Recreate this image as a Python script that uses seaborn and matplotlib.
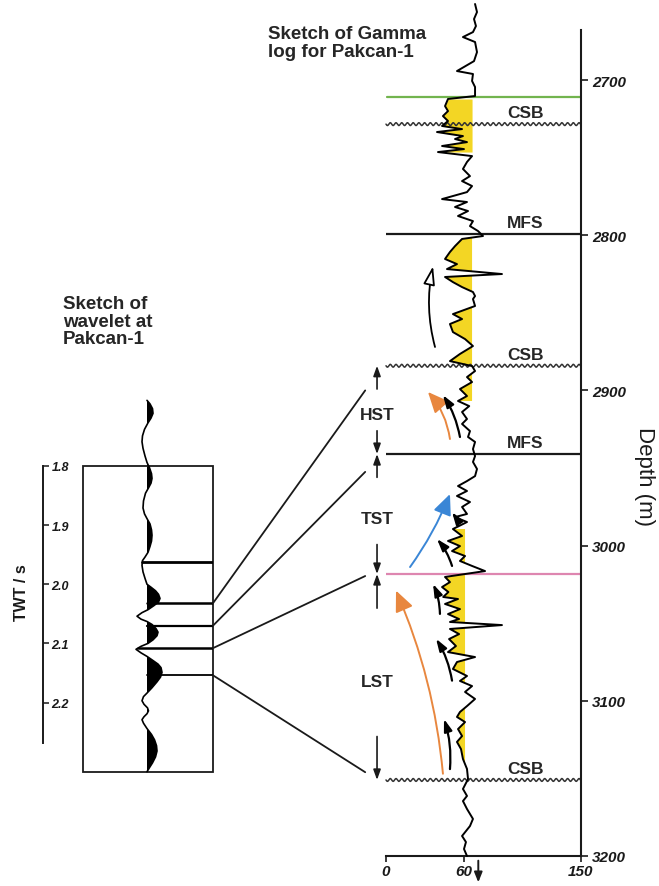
import numpy as np
import matplotlib
matplotlib.use('Agg')
import matplotlib.pyplot as plt
import seaborn as sns
from matplotlib.patches import Rectangle, ConnectionPatch

sns.set_theme(style='white')
plt.rcParams['font.family'] = ['Liberation Sans', 'DejaVu Sans']

# ---------------- data ----------------
gamma_depth = [2651.0, 2656.2, 2660.7, 2665.2, 2669.1, 2672.3, 2675.5, 2682.0, 2687.8, 2694.2,
               2696.1, 2700.6, 2704.5, 2710.3, 2712.2, 2716.8, 2720.0, 2723.2, 2726.4, 2729.6,
               2731.6, 2733.5, 2736.1, 2738.0, 2740.0, 2742.5, 2744.5, 2746.4, 2749.0, 2752.8,
               2757.3, 2761.9, 2765.1, 2768.3, 2772.2, 2776.7, 2778.6, 2781.8, 2784.4, 2787.6,
               2790.9, 2794.1, 2797.3, 2800.5, 2802.4, 2807.0, 2810.8, 2815.3, 2818.6, 2821.8,
               2825.0, 2826.9, 2830.2, 2833.4, 2836.6, 2839.2, 2841.1, 2845.6, 2850.8, 2854.0,
               2857.2, 2862.4, 2866.9, 2871.4, 2876.5, 2881.1, 2884.3, 2887.5, 2891.4, 2894.6,
               2899.1, 2903.6, 2906.8, 2910.1, 2913.9, 2918.4, 2921.6, 2926.2, 2930.0, 2933.2,
               2937.8, 2942.3, 2946.1, 2950.6, 2955.2, 2958.4, 2961.6, 2964.8, 2968.0, 2971.9,
               2975.1, 2979.6, 2981.6, 2984.8, 2989.3, 2993.8, 2997.0, 3000.3, 3003.5, 3006.7,
               3009.9, 3013.1, 3016.4, 3018.3, 3020.2, 3023.5, 3026.7, 3029.9, 3033.1, 3034.4,
               3037.6, 3040.9, 3044.1, 3047.3, 3049.2, 3051.2, 3053.7, 3057.0, 3060.2, 3064.7,
               3068.6, 3071.8, 3075.0, 3079.5, 3084.0, 3087.2, 3090.5, 3094.3, 3098.8, 3103.4,
               3107.2, 3110.4, 3113.7, 3118.2, 3122.7, 3126.5, 3131.1, 3137.5, 3143.9, 3150.4,
               3156.8, 3161.3, 3164.6, 3169.7, 3176.1, 3180.7, 3187.1, 3191.0, 3195.5, 3200.0]
gamma_api = [68.5, 70.0, 67.7, 69.2, 66.9, 59.2, 68.5, 70.0, 67.7, 54.6,
             66.9, 66.2, 68.5, 68.5, 47.7, 45.4, 47.7, 43.8, 47.7, 43.1,
             58.5, 39.2, 59.2, 53.1, 62.3, 43.1, 60.0, 40.0, 66.2, 62.3,
             59.2, 64.6, 58.5, 66.2, 62.3, 43.1, 62.3, 53.1, 63.1, 55.4,
             66.9, 64.6, 70.8, 74.6, 58.5, 53.1, 49.2, 45.4, 54.6, 46.9,
             89.2, 45.4, 51.5, 58.5, 66.9, 68.5, 66.9, 68.5, 51.5, 58.5,
             49.2, 51.5, 60.8, 66.9, 56.9, 49.2, 66.2, 68.5, 62.3, 66.2,
             56.9, 62.3, 55.4, 64.0, 58.5, 62.3, 58.5, 64.6, 63.1, 68.5,
             66.9, 68.5, 66.9, 70.0, 68.5, 62.3, 55.4, 62.3, 54.6, 64.6,
             58.5, 62.3, 53.1, 62.3, 51.5, 58.5, 47.7, 56.9, 50.8, 60.8,
             56.9, 66.2, 76.2, 60.8, 45.4, 49.2, 43.1, 48.0, 44.0, 55.4,
             45.4, 56.9, 47.7, 56.2, 49.2, 89.2, 49.2, 56.2, 48.5, 53.8,
             47.7, 68.5, 54.6, 51.5, 62.3, 56.9, 66.2, 60.8, 68.5, 62.3,
             56.9, 54.6, 60.8, 55.4, 58.5, 54.6, 57.7, 59.2, 62.3, 63.1,
             59.2, 62.3, 59.2, 62.3, 66.9, 64.6, 58.5, 61.5, 60.0, 62.3]

yellow_top = [2711.0, 2800.5, 2988.0]
yellow_base = [2747.0, 2907.0, 3150.5]
yellow_cut = [66.2, 66.2, 60.8]

horizon_depth = [2711.0, 2728.4, 2799.5, 2884.1, 2941.0, 3018.3, 3151.0]
horizon_kind = ['green', 'wavy', 'solid', 'wavy', 'solid', 'pink', 'wavy']
horizon_label = ['', 'CSB', 'MFS', 'CSB', 'MFS', '', 'CSB']

tract_names = ['HST', 'TST', 'LST']
tract_top = [2884.1, 2941.0, 3018.3]
tract_base = [2941.0, 3018.3, 3151.0]

depth_ticks = [2700, 2800, 2900, 3000, 3100, 3200]
gamma_ticks = [0, 60, 150]

wave_twt = [1.689, 1.695, 1.703, 1.711, 1.719, 1.727, 1.738, 1.749, 1.759, 1.770,
            1.783, 1.794, 1.803, 1.813, 1.821, 1.829, 1.837, 1.846, 1.859, 1.871,
            1.881, 1.889, 1.898, 1.908, 1.917, 1.927, 1.936, 1.946, 1.954, 1.960,
            1.968, 1.979, 1.990, 2.000, 2.005, 2.011, 2.017, 2.024, 2.030, 2.036,
            2.043, 2.048, 2.054, 2.059, 2.063, 2.068, 2.075, 2.081, 2.087, 2.094,
            2.100, 2.105, 2.110, 2.116, 2.122, 2.129, 2.135, 2.141, 2.149, 2.157,
            2.165, 2.175, 2.184, 2.190, 2.197, 2.203, 2.209, 2.214, 2.219, 2.224,
            2.229, 2.235, 2.244, 2.254, 2.263, 2.273, 2.282, 2.292, 2.302, 2.310,
            2.317]
wave_amp = [0, 3, 5.5, 6, 4, 1, -2.5, -4.5, -5, -4,
            -2, 0, 2.5, 4.5, 5, 4, 1.5, -1.5, -3.5, -4,
            -2.5, 0, 3, 4.5, 5, 4.5, 3, 1, -2, -4.5,
            -5, -4, -2, 0, 4, 8.5, 11.5, 13, 11.5, 7,
            1, -5, -10, -6, 0, 5, 9, 11, 10, 6,
            1, -6, -11, -6, 0, 6, 11, 14, 15, 13.5,
            10, 5, 0, -3.5, -5, -3, 0.5, 1.5, 0, -3,
            -5, -3.5, 0, 4.5, 7.5, 9.5, 10, 8.5, 5.5, 2.5,
            0]
twt_ticks = [1.8, 1.9, 2.0, 2.1, 2.2]
wave_horizon_twt = [1.962, 2.032, 2.070, 2.108, 2.154]
tie_twt = [2.032, 2.070, 2.108, 2.154]
tie_depth = [2900.0, 2952.5, 3019.6, 3146.0]

# ---------------- layout helpers ----------------
W, H = 659, 887
fig = plt.figure(figsize=(W / 100, H / 100), dpi=100)
fig.patch.set_facecolor('white')


def fx(px):
    return px / W


def fy(py):
    return 1 - py / H


INK = '#1a1a1a'
bi = dict(fontweight='bold', fontstyle='italic')

# ---------------- gamma log panel ----------------
ax = fig.add_axes([fx(386), fy(857), fx(581) - fx(386), fy(5) - fy(857)])
ax.set_facecolor('none')
ax.set_xlim(0, 150)
ax.set_ylim(3200, 2651)

g = np.array(gamma_api)
d = np.array(gamma_depth)
for top, base, cut in zip(yellow_top, yellow_base, yellow_cut):
    m = (d >= top - 0.01) & (d <= base + 0.01)
    ax.fill_betweenx(d[m], g[m], cut, where=g[m] < cut, interpolate=True,
                     color='#f3d624', lw=0, zorder=1)

for hd, kind, lab in zip(horizon_depth, horizon_kind, horizon_label):
    if kind == 'wavy':
        xs = np.linspace(0, 150, 700)
        ax.plot(xs, hd + 0.9 * np.sin(2 * np.pi * xs / 4.4), color='#333333', lw=1.1,
                zorder=2, clip_on=False)
    elif kind == 'green':
        ax.plot([1, 150], [hd, hd], color='#72b44e', lw=1.6, zorder=2)
    elif kind == 'pink':
        ax.plot([0, 150], [hd, hd], color='#de86b0', lw=1.6, zorder=2)
    else:
        ax.plot([0, 150], [hd, hd], color=INK, lw=1.6, zorder=2)
    if lab:
        ax.text(107, hd - 7.5, lab, ha='center', va='center', fontsize=12.5,
                fontweight='bold', color='#262626', zorder=3)

sns.lineplot(x=gamma_api, y=gamma_depth, sort=False, estimator=None, color='black',
             lw=1.4, ax=ax, zorder=4)
for ln in ax.lines[-1:]:
    ln.set_clip_on(False)

# systems tract double arrows
up_len = [15, 15, 22]
dn_len = [15, 19, 28]
for name, top, base, ul, dl in zip(tract_names, tract_top, tract_base, up_len, dn_len):
    ap = dict(arrowstyle='-|>,head_length=0.5,head_width=0.18', color=INK, lw=1.2,
              shrinkA=0, shrinkB=0, mutation_scale=12)
    ax.annotate('', xy=(-6.9, top), xytext=(-6.9, top + ul), arrowprops=ap,
                annotation_clip=False)
    ax.annotate('', xy=(-6.9, base), xytext=(-6.9, base - dl), arrowprops=ap,
                annotation_clip=False)
    ax.text(-6.7, (top + base) / 2 + 3, name, ha='center', va='center', fontsize=12.5,
            fontweight='bold', color='#262626', clip_on=False)

# trend arrows (tail -> tip)
trend = [
    ((37.7, 2872.0), (36.2, 2820.0), 'black', -0.12, 'hollow'),
    ((49.2, 2931.3), (32.3, 2901.0), '#e8873f', 0.15, 'solid'),
    ((56.9, 2930.0), (43.8, 2903.0), 'black', 0.10, 'thin'),
    ((18.5, 3013.8), (49.2, 2966.8), '#3a86d6', 0.06, 'solid'),
    ((50.8, 3013.1), (39.2, 2995.7), 'black', 0.10, 'thin'),
    ((55.4, 2987.4), (50.8, 2978.4), 'black', 0.10, 'thin'),
    ((43.8, 3147.0), (7.7, 3029.0), '#e8873f', 0.08, 'solid'),
    ((49.2, 3144.0), (44.6, 3111.7), 'black', 0.10, 'thin'),
    ((50.8, 3087.0), (38.5, 3060.0), 'black', 0.10, 'thin'),
    ((41.5, 3044.0), (36.2, 3024.7), 'black', 0.10, 'thin'),
]
for tail, tip, col, rad, kind in trend:
    if kind == 'hollow':
        ap = dict(arrowstyle='-|>,head_length=0.8,head_width=0.25', fc='white', ec=col,
                  lw=1.3, mutation_scale=14, shrinkA=0, shrinkB=0,
                  connectionstyle=f'arc3,rad={rad}')
    elif kind == 'solid':
        ap = dict(arrowstyle='-|>,head_length=0.9,head_width=0.4', color=col,
                  lw=1.4, mutation_scale=14, shrinkA=0, shrinkB=0,
                  connectionstyle=f'arc3,rad={rad}')
    else:
        ap = dict(arrowstyle='-|>,head_length=0.6,head_width=0.2', color=col,
                  lw=1.6, mutation_scale=12, shrinkA=0, shrinkB=0,
                  connectionstyle=f'arc3,rad={rad}')
    ax.annotate('', xy=tip, xytext=tail, arrowprops=ap, annotation_clip=False, zorder=5)

for s in ['left', 'top']:
    ax.spines[s].set_visible(False)
ax.spines['right'].set_bounds(2668, 3200)
for s in ['right', 'bottom']:
    ax.spines[s].set_color(INK)
    ax.spines[s].set_linewidth(1.5)
ax.yaxis.tick_right()
ax.set_yticks(depth_ticks)
ax.set_yticklabels([str(t) for t in depth_ticks], fontsize=11, color=INK, **bi)
ax.set_xticks(gamma_ticks)
ax.set_xticklabels([str(t) for t in gamma_ticks], fontsize=11, color=INK, **bi)
ax.tick_params(axis='y', right=True, left=False, direction='out', length=5, width=1.2,
               pad=3, color=INK)
ax.tick_params(axis='x', bottom=True, direction='out', length=4, width=1.2, pad=2,
               color=INK)
ax.set_xlabel('')
ax.set_ylabel('')
ax.annotate('', xy=(71, 3217), xytext=(71, 3203),
            arrowprops=dict(arrowstyle='-|>,head_length=0.5,head_width=0.2', color=INK,
                            lw=1.4, mutation_scale=12, shrinkA=0, shrinkB=0),
            annotation_clip=False)

# ---------------- wavelet panel ----------------
axw = fig.add_axes([fx(83), fy(773), fx(213) - fx(83), fy(467) - fy(773)])
axw.set_facecolor('none')
axw.set_xlim(-64, 66)
axw.set_ylim(2.3175, 1.8317)

sns.lineplot(x=wave_amp, y=wave_twt, sort=False, estimator=None, color='black', lw=1.2,
             ax=axw)
for ln in axw.lines:
    ln.set_clip_on(False)
wa = np.array(wave_amp, dtype=float)
wt = np.array(wave_twt)
axw.fill_betweenx(wt, 0, wa, where=wa > 0, interpolate=True, color='black', lw=0,
                  clip_on=False)

hw = [2.0, 1.8, 1.6, 1.8, 1.3]
for t, lw in zip(wave_horizon_twt, hw):
    x0 = min(0.0, float(np.interp(t, wt, wa)))
    axw.plot([x0, 66], [t, t], color='black', lw=lw)

axw.add_patch(Rectangle((0, 0), 1, 1, transform=axw.transAxes, fill=False, ec=INK,
                        lw=1.3, clip_on=False))
for s in ['left', 'top', 'bottom']:
    axw.spines[s].set_visible(False)
axw.spines['right'].set_position(('axes', (43 - 83) / 130))
axw.spines['right'].set_bounds(1.8, 2.268)
axw.spines['right'].set_color(INK)
axw.spines['right'].set_linewidth(1.4)
axw.yaxis.tick_right()
axw.set_yticks(twt_ticks)
axw.set_yticklabels([f'{t:.1f}' for t in twt_ticks], fontsize=9, color=INK, **bi)
axw.tick_params(axis='y', right=True, left=False, direction='out', length=4, width=1.1,
                pad=2, color=INK)
axw.set_xticks([])
axw.set_xlabel('')
axw.set_ylabel('')

# tie lines wavelet -> log
for t, dep in zip(tie_twt, tie_depth):
    con = ConnectionPatch(xyA=(66, t), coordsA=axw.transData, xyB=(-16, dep),
                          coordsB=ax.transData, color=INK, lw=1.3)
    fig.add_artist(con)

# ---------------- texts ----------------
fig.text(fx(268), fy(26), 'Sketch of Gamma\nlog for Pakcan-1', ha='left', va='top',
         fontsize=13.5, fontweight='bold', color='#262626', linespacing=1.1)
fig.text(fx(63), fy(296), 'Sketch of\nwavelet at\nPakcan-1', ha='left', va='top',
         fontsize=13.5, fontweight='bold', color='#262626', linespacing=1.05)
fig.text(fx(22), fy(593), 'TWT / s', rotation=90, ha='center', va='center',
         fontsize=11.5, fontweight='bold', color=INK)
fig.text(fx(645), fy(477), 'Depth (m)', rotation=270, ha='center', va='center',
         fontsize=16, color=INK)

fig.savefig('out.png', dpi=100, facecolor='white')
